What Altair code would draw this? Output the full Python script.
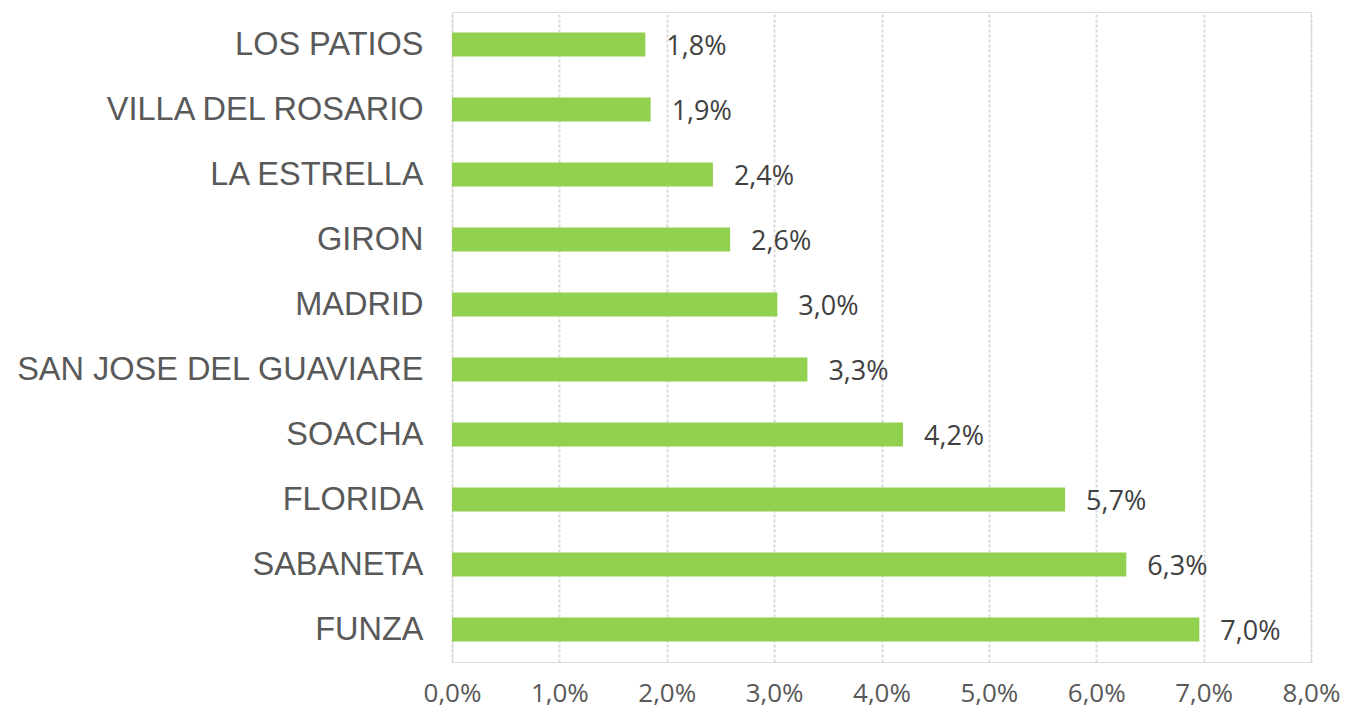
import altair as alt
import pandas as pd

categories = ["LOS PATIOS", "VILLA DEL ROSARIO", "LA ESTRELLA", "GIRON", "MADRID",
              "SAN JOSE DEL GUAVIARE", "SOACHA", "FLORIDA", "SABANETA", "FUNZA"]
values = [1.80, 1.85, 2.43, 2.59, 3.03, 3.31, 4.20, 5.71, 6.28, 6.96]
x_ticks = [0, 1, 2, 3, 4, 5, 6, 7, 8]

df = pd.DataFrame({"cat": categories, "val": values})

y_enc = alt.Y("cat:N", sort=categories,
              scale=alt.Scale(paddingInner=0.63, paddingOuter=0.315),
              axis=alt.Axis(title=None, labelFont="Liberation Sans", labelFontSize=32.5,
                            labelColor="#595959", labelPadding=29, ticks=False,
                            domain=False, grid=False, labelLimit=600))
x_enc = alt.X("val:Q", scale=alt.Scale(domain=[0, 8], nice=False),
              axis=alt.Axis(title=None, values=x_ticks, grid=True, gridColor="#D9D9D9",
                            gridDash=[3, 2], gridWidth=2, domain=False, ticks=False,
                            labelFont="Open Sans", labelFontSize=26, labelColor="#595959",
                            labelPadding=18, labelFlush=False, labelOverlap=False,
                            labelExpr="replace(format(datum.value, '.1f'), '.', ',') + '%'"))

bars = alt.Chart(df).mark_bar(color="#92D050").encode(x=x_enc, y=y_enc)
text = alt.Chart(df).transform_calculate(
    lbl="replace(format(datum.val, '.1f'), '.', ',') + '%'"
).mark_text(align="left", baseline="middle", dx=21, dy=2, font="Open Sans", fontSize=27,
            color="#404040").encode(x="val:Q", y=alt.Y("cat:N", sort=categories), text="lbl:N")

chart = (bars + text).properties(
    width=859, height=650,
    autosize=alt.AutoSizeParams(type="none"),
    padding={"left": 444, "top": 4, "right": 29, "bottom": 52},
).configure_view(stroke=None).configure(background="white")

chart.save("out.html", embed_options={"renderer": "svg", "actions": False})
